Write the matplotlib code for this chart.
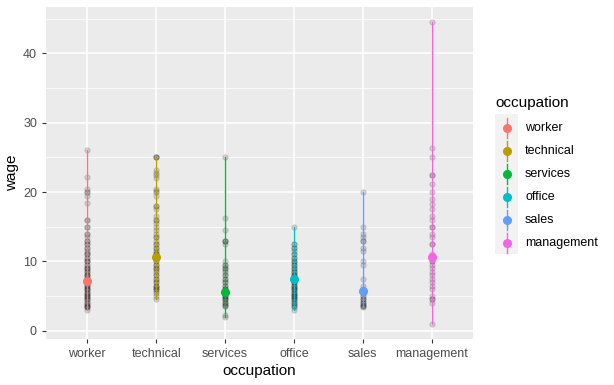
import matplotlib.pyplot as plt
from matplotlib.lines import Line2D
from matplotlib.patches import Rectangle

plt.rcParams['font.family'] = ['Liberation Sans', 'DejaVu Sans']

occupations = ["worker", "technical", "services", "office", "sales", "management"]
colors = ["#F8766D", "#B79F00", "#00BA38", "#00BFC4", "#619CFF", "#F564E3"]

# wages (approximate)
wage_worker = [26, 22.2, 20.5, 20, 20, 19.5, 18.4, 16, 16, 15, 15, 14, 14, 13.5, 13, 13, 12.5, 12.5,
               12, 12, 11.5, 11.25, 11, 11, 10.5, 10.5, 10, 10, 10, 9.5, 9.5, 9, 9, 9, 8.75, 8.5, 8.5,
               8, 8, 8, 7.75, 7.5, 7.5, 7, 7, 7, 6.75, 6.5, 6.5, 6.25, 6, 6, 6, 5.75, 5.5, 5.5, 5.25,
               5, 5, 5, 4.75, 4.5, 4.5, 4.25, 4, 4, 3.75, 3.5, 3.5, 3.35, 3.35, 3.0]
wage_technical = [25, 25, 25, 23.2, 22.8, 22.5, 22, 20.5, 20.2, 20, 19.5, 18, 18, 17.5, 16.5, 16, 16,
                  15.5, 15, 14.5, 14, 13.5, 13.5, 13, 12.5, 12.5, 12, 12, 11.5, 11.25, 11, 11, 10.5,
                  10.5, 10, 10, 9.5, 9.5, 9, 9, 8.75, 8.5, 8, 8, 7.5, 7.5, 7, 7, 6.5, 6.5, 6.25, 6, 6,
                  5.75, 5.5, 5, 4.5]
wage_services = [25, 16.2, 14.5, 13, 13, 13, 12.5, 10, 9.5, 9.5, 9, 9, 8.75, 8.5, 8, 8, 7.5, 7.5, 7,
                 7, 6.5, 6.5, 6, 6, 6, 5.75, 5.5, 5, 5, 5, 4.75, 4.5, 4.5, 4.25, 4, 4, 3.75, 3.5, 3.5,
                 2.3, 2.0]
wage_office = [15, 12.5, 12.5, 12, 12, 11.5, 11, 11, 10.5, 10.5, 10, 10, 9.75, 9.5, 9.5, 9, 9, 8.75,
               8.5, 8.5, 8, 8, 8, 7.75, 7.5, 7.5, 7, 7, 7, 6.75, 6.5, 6.5, 6.25, 6, 6, 6, 5.75, 5.5,
               5.5, 5.25, 5, 5, 5, 4.75, 4.5, 4.5, 4.25, 4, 4, 3.75, 3.5, 3.35, 3.0]
wage_sales = [20, 15, 14, 13.5, 13, 13, 12, 11.5, 10, 9.5, 7.5, 6.5, 6, 5.5, 5, 5, 4.5, 4.5, 4.25, 4,
              4, 3.75, 3.5, 3.5, 3.4]
wage_management = [44.5, 26.3, 25, 22.5, 22.5, 21.2, 20, 19, 18.3, 17.5, 16.5, 15.9, 15, 15, 14, 13.5,
                   12.5, 12.5, 11, 10.5, 10, 10, 9.5, 9, 8.5, 8, 7.5, 7, 6.5, 6, 5, 4.5, 4.5, 4, 1.0]
wages = [wage_worker, wage_technical, wage_services, wage_office, wage_sales, wage_management]
centers = [7.2, 10.6, 5.6, 7.4, 5.7, 10.6]

fig = plt.figure(figsize=(6.14, 3.85), dpi=100)
ax = fig.add_axes([46 / 614, 1 - 339 / 385, 427 / 614, 332 / 385])
ax.set_facecolor("#EBEBEB")

for i, w in enumerate(wages):
    ax.plot([i] * len(w), w, "o", color="black", alpha=0.13, markersize=3.8,
            markeredgewidth=0.8, zorder=2)
    ax.plot([i, i], [min(w), max(w)], color=colors[i], linewidth=1.0, zorder=3)
    ax.plot(i, centers[i], "o", color=colors[i], markersize=5.5, zorder=4)

ax.set_xlim(-0.6, 5.6)
ax.set_ylim(-1.2, 46.7)
ax.set_xticks(range(len(occupations)))
ax.set_xticklabels(occupations)
ax.set_yticks([0, 10, 20, 30, 40])
ax.set_yticks([5, 15, 25, 35, 45], minor=True)
ax.grid(True, which="major", color="white", linewidth=1.1, zorder=0)
ax.grid(True, which="minor", color="white", linewidth=0.55, zorder=0)
ax.set_axisbelow(True)
for s in ax.spines.values():
    s.set_visible(False)
ax.tick_params(axis="both", which="major", colors="#333333", labelcolor="#4D4D4D",
               labelsize=9, length=3, width=0.8, pad=3.5)
ax.tick_params(axis="both", which="minor", length=0)
ax.set_xlabel("occupation", fontsize=11, labelpad=2.5)
ax.set_ylabel("wage", fontsize=11, labelpad=3)

# legend drawn by hand, ggplot style
fig.text(495 / 614, 1 - 103 / 385, "occupation", fontsize=11, va="center", ha="left")
fig.patches.append(Rectangle((495 / 614, 1 - 254 / 385), 23 / 614, 140 / 385,
                             transform=fig.transFigure, facecolor="#F2F2F2", edgecolor="none"))
for i, occ in enumerate(occupations):
    yc = 1 - (128.3 + 23 * i) / 385
    xc = 506.5 / 614
    fig.add_artist(Line2D([xc, xc], [yc - 10 / 385, yc + 10 / 385], color=colors[i],
                          linewidth=1.0, transform=fig.transFigure))
    fig.add_artist(Line2D([xc], [yc], marker="o", color=colors[i], markersize=5.5,
                          transform=fig.transFigure))
    fig.text(525 / 614, yc, occ, fontsize=9, va="center", ha="left")

fig.savefig("out.png", dpi=100)
